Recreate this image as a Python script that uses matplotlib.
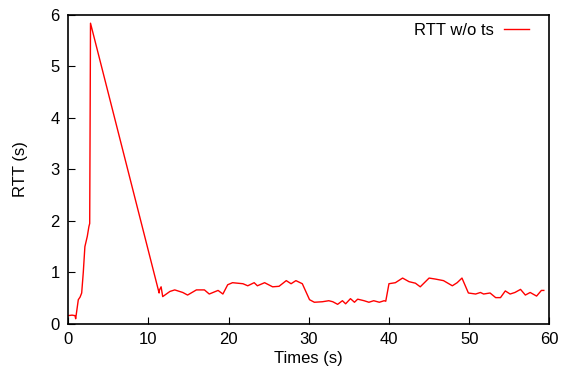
import matplotlib
matplotlib.use("Agg")
import matplotlib.pyplot as plt

plt.rcParams['font.family'] = ['Liberation Sans', 'DejaVu Sans']

# RTT without timestamps
t = [0.0, 0.5, 0.87, 0.95, 1.28, 1.5, 1.7, 1.9, 2.1, 2.4, 2.6, 2.7, 2.8,
     11.35, 11.4, 11.6, 11.8, 12.7, 13.3, 14.3, 14.9, 16.0, 17.0,
     17.6, 18.7, 19.3, 19.9, 20.5, 21.8, 22.4, 23.2, 23.6, 24.5,
     25.5, 26.3, 27.2, 27.8, 28.4, 29.2, 30.1, 30.7, 31.7, 32.5,
     33.0, 33.6, 34.2, 34.6, 35.2, 35.7, 36.1, 36.9, 37.5, 38.1,
     38.8, 39.4, 39.6, 40.0, 40.8, 41.7, 42.5, 43.3, 43.9, 45.0,
     45.8, 46.8, 47.9, 48.5, 49.1, 49.9, 50.8, 51.4, 51.8, 52.6,
     53.3, 53.9, 54.5, 55.1, 55.7, 56.4, 57.0, 57.6, 58.4, 59.0, 59.3]
rtt = [0.16, 0.17, 0.16, 0.10, 0.47, 0.52, 0.60, 1.0, 1.5, 1.7, 1.89, 1.95, 5.84,
       0.60, 0.66, 0.72, 0.53, 0.63, 0.66, 0.61, 0.56, 0.66, 0.66,
       0.58, 0.65, 0.58, 0.76, 0.80, 0.78, 0.74, 0.80, 0.74, 0.80,
       0.72, 0.73, 0.84, 0.78, 0.84, 0.78, 0.47, 0.42, 0.43, 0.45,
       0.43, 0.38, 0.45, 0.39, 0.49, 0.42, 0.48, 0.45, 0.42, 0.45,
       0.42, 0.45, 0.44, 0.78, 0.80, 0.89, 0.82, 0.79, 0.72, 0.89,
       0.87, 0.84, 0.74, 0.80, 0.89, 0.60, 0.58, 0.61, 0.58, 0.60,
       0.51, 0.51, 0.64, 0.58, 0.61, 0.67, 0.56, 0.61, 0.54, 0.65, 0.65]

fig = plt.figure(figsize=(5.67, 3.74), dpi=100)
ax = fig.add_axes([0.12, 0.134, 0.849, 0.826])
ax.plot(t, rtt, color='red', lw=1.0, label='RTT w/o ts')

ax.set_xlim(0, 60)
ax.set_ylim(0, 6)
ax.set_xticks(range(0, 61, 10))
ax.set_yticks(range(0, 7))
ax.tick_params(direction='in', length=5, labelsize=12, top=False, right=False, pad=6)
for s in ax.spines.values():
    s.set_linewidth(1.2)
ax.set_xlabel('Times (s)', fontsize=12, labelpad=3)
ax.set_ylabel('RTT (s)', fontsize=12, labelpad=16)

ax.legend(loc='upper right', bbox_to_anchor=(0.975, 1.0), frameon=False, fontsize=12,
          markerfirst=False, handlelength=1.5, borderaxespad=0.1, handletextpad=0.6)

fig.savefig('out.png', dpi=100)
